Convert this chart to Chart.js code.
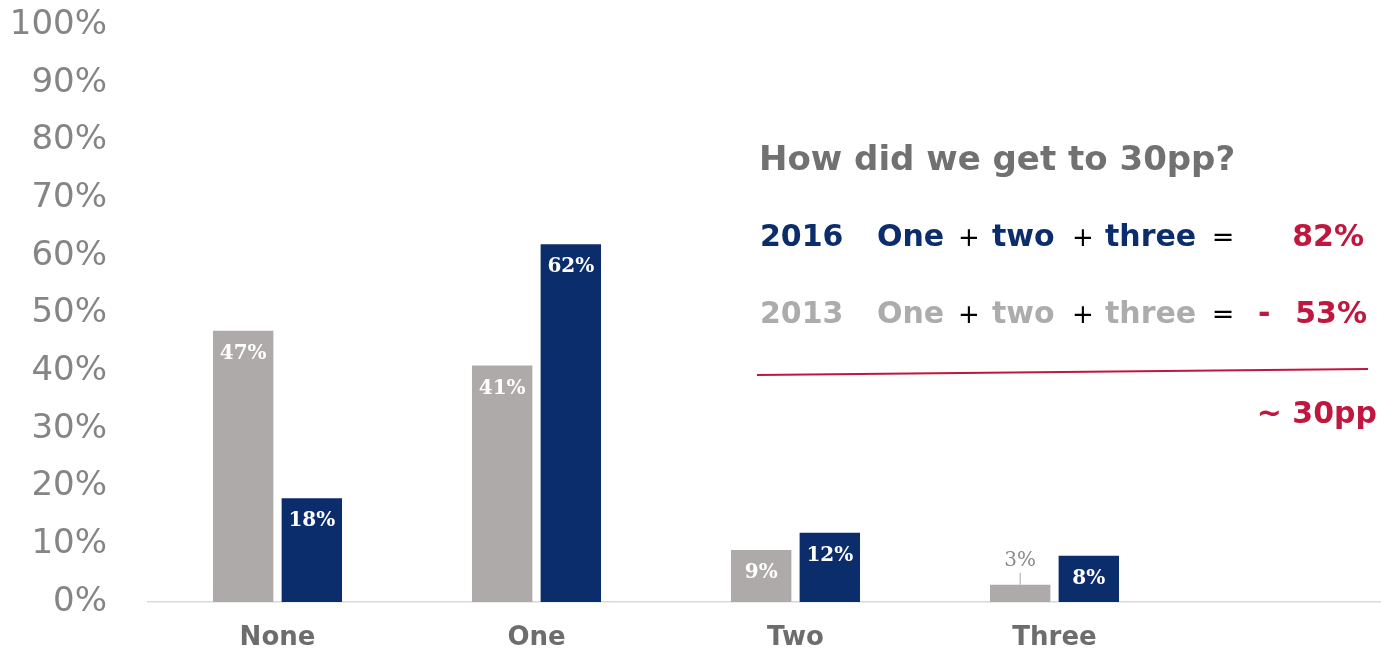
<!DOCTYPE html>
<html>
<head>
<meta charset="utf-8">
<script src="https://cdn.jsdelivr.net/npm/chart.js@4/dist/chart.umd.min.js"></script>
<style>
  html, body { margin: 0; padding: 0; background: #ffffff; overflow: hidden; }
  #wrap { width: 1443px; height: 651px; }
</style>
</head>
<body>
<div id="wrap"><canvas id="chart" width="1443" height="651"></canvas></div>
<script>
// Datos del gráfico
const categories = ['None', 'One', 'Two', 'Three', ''];
const values2013 = [47, 41, 9, 3, null];
const values2016 = [18, 62, 12, 8, null];
const yTicks = [0, 10, 20, 30, 40, 50, 60, 70, 80, 90, 100];

const colors = {
    gray: '#aeaaaa',
    navy: '#0c2d6b',
    red: '#c0173f',
    tick: '#858585',
    label: '#6d6d6d',
    lightText: '#acacac'
};

// Etiquetas de valor sobre las barras
const barLabels = {
    id: 'barLabels',
    afterDatasetsDraw(chart) {
        const ctx = chart.ctx;
        ctx.save();
        ctx.textAlign = 'center';
        ctx.textBaseline = 'middle';
        chart.data.datasets.forEach((ds, di) => {
            const meta = chart.getDatasetMeta(di);
            meta.data.forEach((bar, i) => {
                const v = ds.data[i];
                if (v == null) return;
                if (v < 5) {
                    // etiqueta fuera de la barra con línea guía
                    ctx.font = '20px "DejaVu Serif"';
                    ctx.fillStyle = '#8a8a8a';
                    ctx.fillText(v + '%', bar.x, bar.y - 24);
                    ctx.strokeStyle = '#a6a6a6';
                    ctx.lineWidth = 1;
                    ctx.beginPath();
                    ctx.moveTo(bar.x, bar.y - 12);
                    ctx.lineTo(bar.x, bar.y);
                    ctx.stroke();
                } else {
                    ctx.font = 'bold 20px "DejaVu Serif"';
                    ctx.fillStyle = '#ffffff';
                    ctx.fillText(v + '%', bar.x, bar.y + 23);
                }
            });
        });
        ctx.restore();
    }
};

// Texto explicativo de la derecha
const annotation = {
    id: 'annotation',
    afterDraw(chart) {
        const ctx = chart.ctx;
        ctx.save();
        ctx.textBaseline = 'middle';
        ctx.textAlign = 'left';

        ctx.font = 'bold 34px "DejaVu Sans"';
        ctx.fillStyle = '#717171';
        ctx.fillText('How did we get to 30pp?', 759, 161);

        const rows = [
            { y: 238, year: '2016', color: colors.navy },
            { y: 315, year: '2013', color: colors.lightText }
        ];
        rows.forEach(r => {
            ctx.textAlign = 'left';
            ctx.font = 'bold 30px "DejaVu Sans"';
            ctx.fillStyle = r.color;
            ctx.fillText(r.year, 760, r.y);
            ctx.fillText('One', 877, r.y);
            ctx.fillText('two', 992, r.y);
            ctx.fillText('three', 1105, r.y);
            ctx.textAlign = 'center';
            ctx.fillStyle = '#000000';
            ctx.font = '26px "DejaVu Sans"';
            ctx.fillText('+', 969, r.y + 1);
            ctx.fillText('+', 1083, r.y + 1);
            ctx.font = '27px "DejaVu Sans"';
            ctx.fillText('=', 1223, r.y + 1);
        });

        ctx.font = 'bold 30px "DejaVu Sans"';
        ctx.fillStyle = colors.red;
        ctx.textAlign = 'right';
        ctx.fillText('82%', 1364, 238);
        ctx.fillText('53%', 1367, 315);
        ctx.textAlign = 'left';
        ctx.fillText('-', 1258, 315);

        ctx.strokeStyle = colors.red;
        ctx.lineWidth = 2;
        ctx.beginPath();
        ctx.moveTo(757, 375);
        ctx.lineTo(1368, 369);
        ctx.stroke();

        ctx.textAlign = 'right';
        ctx.fillText('~ 30pp', 1377, 415);
        ctx.restore();
    }
};

const ctx = document.getElementById('chart').getContext('2d');
new Chart(ctx, {
    type: 'bar',
    data: {
        labels: categories,
        datasets: [{
            label: '2013',
            data: values2013,
            backgroundColor: colors.gray,
            categoryPercentage: 0.53,
            barPercentage: 0.88
        }, {
            label: '2016',
            data: values2016,
            backgroundColor: colors.navy,
            categoryPercentage: 0.53,
            barPercentage: 0.88
        }]
    },
    options: {
        responsive: false,
        animation: false,
        layout: { padding: { top: 25, right: 0, bottom: 0, left: 0 } },
        plugins: {
            legend: { display: false },
            tooltip: { enabled: false }
        },
        scales: {
            y: {
                min: 0,
                max: 100,
                afterBuildTicks: (scale) => {
                    scale.ticks = yTicks.map(v => ({ value: v }));
                },
                afterFit: (scale) => {
                    scale.width = 148;
                    scale.paddingTop = 0;
                    scale.paddingBottom = 0;
                },
                grid: { display: false },
                border: { display: false },
                ticks: {
                    padding: 33,
                    color: colors.tick,
                    font: { family: 'DejaVu Sans', size: 34 },
                    callback: (v) => v + '%'
                }
            },
            x: {
                afterFit: (scale) => { scale.height = 49; },
                grid: { display: false, drawTicks: false },
                border: { display: true, color: '#d9d9d9', width: 1.5 },
                ticks: {
                    padding: 21,
                    color: colors.label,
                    font: { family: 'DejaVu Sans', size: 26, weight: 'bold' }
                }
            }
        }
    },
    plugins: [barLabels, annotation]
});
</script>
</body>
</html>
